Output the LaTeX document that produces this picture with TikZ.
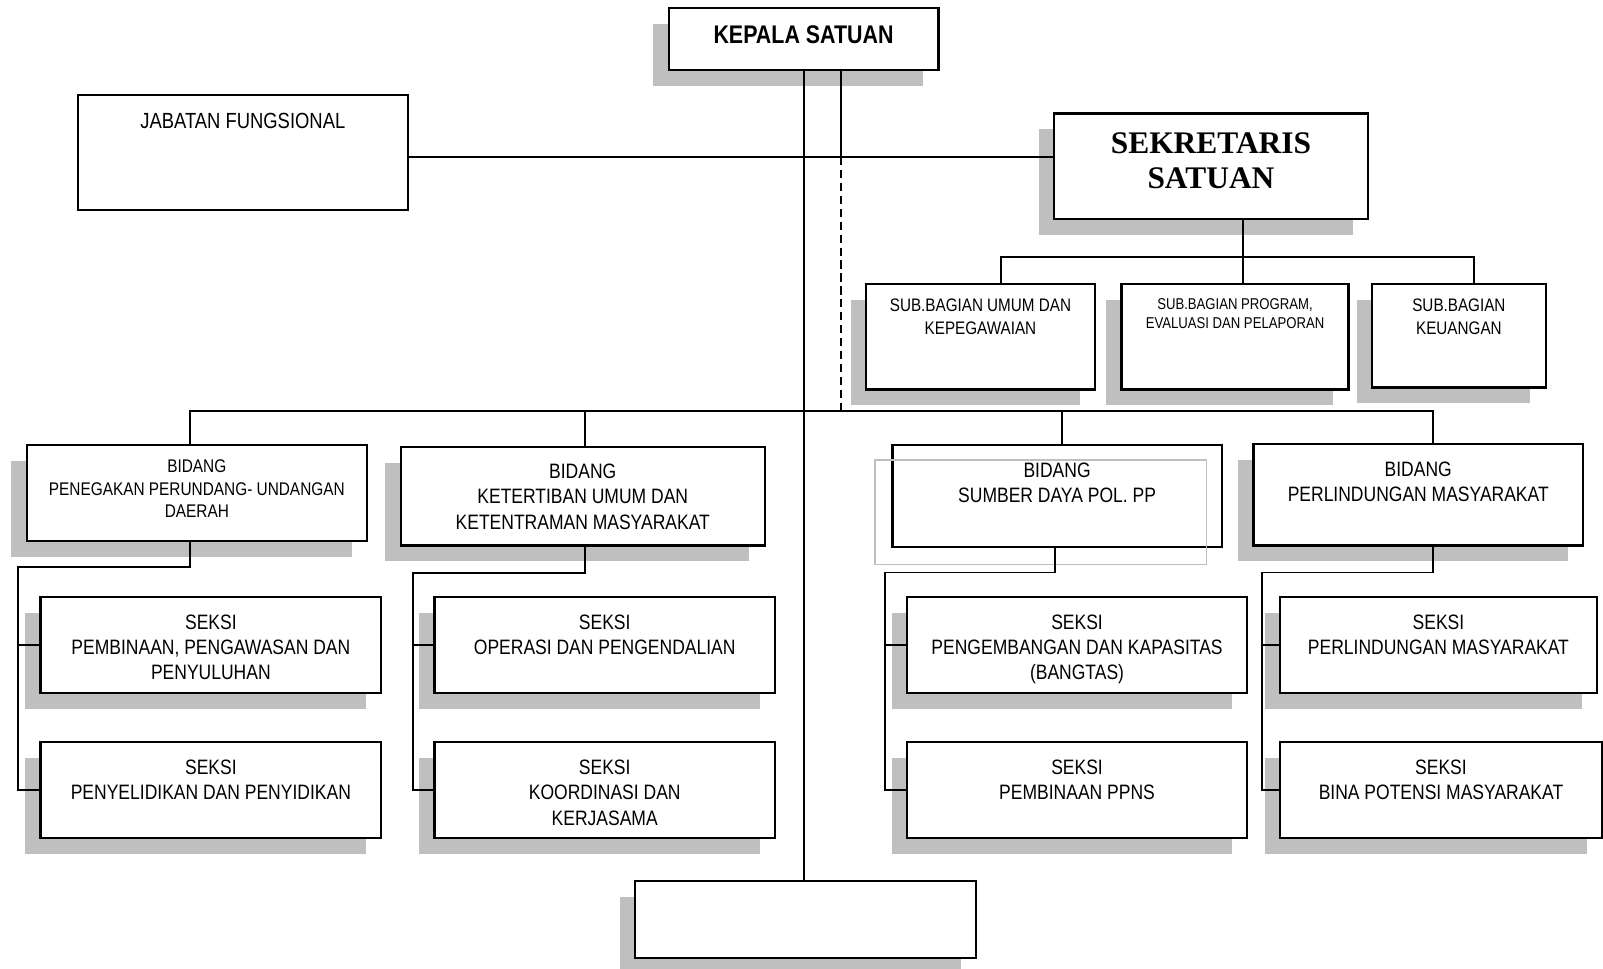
\documentclass[tikz,border=0pt]{standalone}
\usepackage{fontspec}
\setmainfont[FakeStretch=0.84]{Liberation Sans}
\newfontfamily\titlefont{Liberation Serif}
\usetikzlibrary{shadows}

\newcommand{\cell}[5]{\parbox[t][#2][t]{#1}{\centering#3\vspace*{#4}#5}}
\newcommand{\seksifont}{\fontsize{11.6}{14}\selectfont}

\begin{document}
\begin{tikzpicture}[x=0.02cm, y=-0.02cm,
  unit/.style={draw, fill=white, line width=1.2pt, inner sep=0pt, anchor=north west},
  shade/.style={drop shadow={shadow xshift=-0.3cm, shadow yshift=-0.31cm, fill=black!25, opacity=1}},
  link/.style={line width=1.1pt}]

\useasboundingbox (0,0) rectangle (1568,947);

% pimpinan
\node[unit, shade] (kepala) at (653,7) {\cell{5.28cm}{1.21cm}{\bfseries\fontsize{14.2}{17}\selectfont}{0.35cm}{KEPALA SATUAN}};
\node[unit] (jabatan) at (75,92) {\cell{6.46cm}{2.24cm}{\fontsize{12.2}{14}\selectfont}{0.36cm}{JABATAN FUNGSIONAL}};
\node[unit, shade] (sekretaris) at (1030,110) {\cell{6.14cm}{2.06cm}{\titlefont\bfseries\fontsize{17.5}{19.4}\selectfont}{0.38cm}{SEKRETARIS\\SATUAN}};

% sub bagian
\node[unit, shade] (sub1) at (846,277) {\cell{4.48cm}{2.06cm}{\fontsize{10.1}{13}\selectfont}{0.28cm}{SUB.BAGIAN UMUM DAN\\KEPEGAWAIAN}};
\node[unit, shade] (sub2) at (1096,277) {\cell{4.44cm}{2.06cm}{\fontsize{8.7}{10.6}\selectfont}{0.28cm}{SUB.BAGIAN PROGRAM,\\EVALUASI DAN PELAPORAN}};
\node[unit, shade] (sub3) at (1341,277) {\cell{3.40cm}{2.02cm}{\fontsize{10.1}{13}\selectfont}{0.28cm}{SUB.BAGIAN\\KEUANGAN}};

% bidang
\node[unit, shade] (b1) at (25,434) {\cell{6.66cm}{1.88cm}{\fontsize{10.2}{12.5}\selectfont}{0.30cm}{BIDANG\\PENEGAKAN PERUNDANG- UNDANGAN\\DAERAH}};
\node[unit, shade] (b2) at (391,436.5) {\cell{7.12cm}{1.92cm}{\seksifont}{0.33cm}{BIDANG\\KETERTIBAN UMUM DAN\\KETENTRAMAN MASYARAKAT}};
\node[unit] (b3) at (872,434) {\cell{6.44cm}{2.0cm}{\seksifont}{0.35cm}{BIDANG\\SUMBER DAYA POL. PP}};
\draw[black!25, line width=1pt] ([shift={(-16,16)}]b3.north west) rectangle ([shift={(-16,16)}]b3.south east);
\node[unit, shade] (b4) at (1225,433) {\cell{6.45cm}{1.99cm}{\seksifont}{0.35cm}{BIDANG\\PERLINDUNGAN MASYARAKAT}};

% seksi
\node[unit, shade] (s1) at (38.5,582.6) {\cell{6.67cm}{1.89cm}{\seksifont}{0.35cm}{SEKSI\\PEMBINAAN, PENGAWASAN DAN\\PENYULUHAN}};
\node[unit, shade] (s2) at (38.5,725) {\cell{6.67cm}{1.88cm}{\seksifont}{0.35cm}{SEKSI\\PENYELIDIKAN DAN PENYIDIKAN}};
\node[unit, shade] (s3) at (424,582.6) {\cell{6.66cm}{1.89cm}{\seksifont}{0.35cm}{SEKSI\\OPERASI DAN PENGENDALIAN}};
\node[unit, shade] (s4) at (424,725) {\cell{6.66cm}{1.88cm}{\seksifont}{0.35cm}{SEKSI\\KOORDINASI DAN\\KERJASAMA}};
\node[unit, shade] (s5) at (886,582.6) {\cell{6.66cm}{1.89cm}{\seksifont}{0.35cm}{SEKSI\\PENGEMBANGAN DAN KAPASITAS\\(BANGTAS)}};
\node[unit, shade] (s6) at (886,725) {\cell{6.66cm}{1.88cm}{\seksifont}{0.35cm}{SEKSI\\PEMBINAAN PPNS}};
\node[unit, shade] (s7) at (1251,582.6) {\cell{6.2cm}{1.89cm}{\seksifont}{0.35cm}{SEKSI\\PERLINDUNGAN MASYARAKAT}};
\node[unit, shade] (s8) at (1251,725) {\cell{6.3cm}{1.88cm}{\seksifont}{0.35cm}{SEKSI\\BINA POTENSI MASYARAKAT}};

\node[unit, shade, minimum width=6.68cm, minimum height=1.5cm] (bawah) at (620,861) {};

% garis
\coordinate (hub) at (822.6,153.6);
\coordinate (subbus) at (0,251);
\coordinate (bus) at (0,402);

\draw[link] (kepala.south) -- (kepala.south |- bawah.north);
\draw[link] (kepala.south -| hub) -- (hub);
\draw[link, dash pattern=on 0.16cm off 0.093cm] (hub) -- (hub |- bus);
\draw[link] (jabatan.east |- hub) -- (sekretaris.west |- hub);

\coordinate (sk) at ([xshift=0.62cm]sekretaris.south);
\coordinate (u1) at ([xshift=0.41cm]sub1.north);
\coordinate (u3) at ([xshift=0.3cm]sub3.north);
\draw[link] (sk) -- (sk |- sub2.north);
\draw[link] (u1) |- (subbus -| u3) -- (u3);

\coordinate (t1) at ([xshift=-0.13cm]b1.north);
\coordinate (t2) at ([xshift=0.05cm]b2.north);
\coordinate (t3) at ([xshift=0.1cm]b3.north);
\coordinate (t4) at ([xshift=0.29cm]b4.north);
\draw[link] (t1) |- (bus -| t4) -- (t4);
\draw[link] (t2) -- (t2 |- bus);
\draw[link] (t3) -- (t3 |- bus);

\coordinate (r1) at (18,554.8);
\coordinate (r2) at (404,560.8);
\coordinate (r3) at (865.5,560);
\coordinate (r4) at (1234.5,560);
\draw[link] ([xshift=-0.13cm]b1.south) |- (r1) |- (s2.west);
\draw[link] (r1 |- s1.west) -- (s1.west);
\draw[link] ([xshift=0.05cm]b2.south) |- (r2) |- (s4.west);
\draw[link] (r2 |- s3.west) -- (s3.west);
\draw[link] ([xshift=-0.04cm]b3.south) |- (r3) |- (s6.west);
\draw[link] (r3 |- s5.west) -- (s5.west);
\draw[link] ([xshift=0.29cm]b4.south) |- (r4) |- (s8.west);
\draw[link] (r4 |- s7.west) -- (s7.west);
\end{tikzpicture}
\end{document}
